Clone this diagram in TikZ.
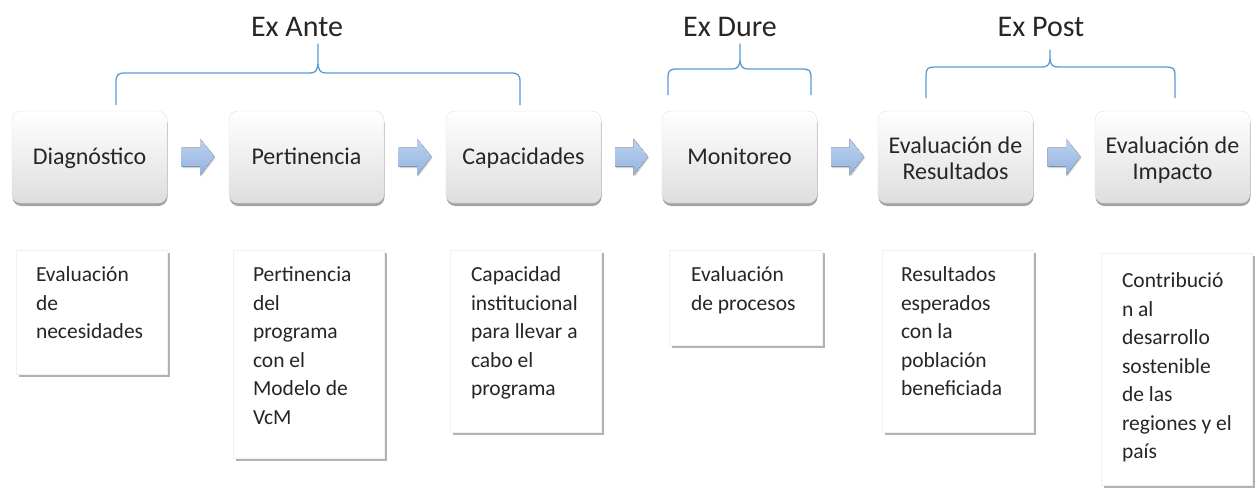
\documentclass[tikz,border=0pt]{standalone}
\usepackage{fontspec}
\setmainfont{Carlito}
\usetikzlibrary{shadows,calc}
\definecolor{bracecol}{HTML}{5B9BD5}
\definecolor{txt}{HTML}{262626}
\definecolor{arrtop}{HTML}{BCD2F0}
\definecolor{arrbot}{HTML}{94B3DE}
\newcommand\mystrutone{\rule[-6pt]{0pt}{26pt}}
\newcommand\mystruttop{\rule{0pt}{24pt}}
\newcommand\mystrutbot{\rule[-6pt]{0pt}{0pt}}
\begin{document}
\begin{tikzpicture}[x=1pt,y=-1pt,
  topbox/.style={rounded corners=9pt, minimum width=155pt, minimum height=92pt,
    top color=white, bottom color=black!13, draw=black!12, line width=0.4pt,
    align=center, font=\fontsize{24}{26}\selectfont, text=txt, inner sep=0pt,
    drop shadow={shadow xshift=0.5pt, shadow yshift=-3pt, opacity=0.55, fill=black!65}},
  botbox/.style={fill=white, draw=black!6, line width=0.4pt, minimum width=151pt, inner sep=0pt,
    drop shadow={shadow xshift=3pt, shadow yshift=-3pt, opacity=0.55, fill=black!55}},
  bottxt/.style={anchor=north west, inner sep=0pt, align=left, text=txt,
    font=\fontsize{21.5}{28.5}\selectfont},
  title/.style={anchor=base, text=txt, font=\fontsize{30}{34}\selectfont},
  arrowfill/.style={top color=arrtop, bottom color=arrbot, draw=none,
    drop shadow={shadow xshift=1pt, shadow yshift=-1.5pt, opacity=0.35, fill=black!50}},
  bracestyle/.style={draw=bracecol, line width=1.3pt, line join=round}
]
\useasboundingbox (0,0) rectangle (1258,491);
\fill[white] (0,0) rectangle (1258,491);

% titles
\node[title] (ta) at (297,36) {Ex Ante};
\node[title] (td) at (730,36) {Ex Dure};
\node[title] (tp) at (1041,36) {Ex Post};

% braces
\draw[bracestyle] (116,105) -- (116,82) .. controls (116,75) and (118,73) .. (125,73)
  -- (310,73) .. controls (316,73) and (318,70) .. (318,61) -- (318,44)
  -- (318,61) .. controls (318,70) and (320,73) .. (326,73)
  -- (511,73) .. controls (518,73) and (520,75) .. (520,82) -- (520,105);
\draw[bracestyle] (668,95) -- (668,77) .. controls (668,71) and (670,69) .. (676,69)
  -- (732,69) .. controls (738,69) and (740,66) .. (740,58) -- (740,44)
  -- (740,58) .. controls (740,66) and (742,69) .. (748,69)
  -- (803,69) .. controls (809,69) and (811,71) .. (811,77) -- (811,95);
\draw[bracestyle] (926,98) -- (926,75) .. controls (926,69) and (928,67) .. (934,67)
  -- (1042,67) .. controls (1048,67) and (1050,64) .. (1050,58) -- (1050,50)
  -- (1050,58) .. controls (1050,64) and (1052,67) .. (1058,67)
  -- (1167,67) .. controls (1173,67) and (1175,69) .. (1175,75) -- (1175,98);

% top boxes
\node[topbox] (t1) at (89.5,157) {\mystrutone Diagnóstico};
\node[topbox] (t2) at (306.5,157) {\mystrutone Pertinencia};
\node[topbox] (t3) at (523.5,157) {\mystrutone Capacidades};
\node[topbox] (t4) at (739.5,157) {\mystrutone Monitoreo};
\node[topbox] (t5) at (955.5,157) {\mystruttop Evaluación de\\Resultados\mystrutbot};
\node[topbox] (t6) at (1172.5,157) {\mystruttop Evaluación de\\Impacto\mystrutbot};

% block arrows
\foreach \a/\b/\m in {t1/t2/m1, t2/t3/m2, t3/t4/m3, t4/t5/m4, t5/t6/m5}{
  \path (\a.east) -- (\b.west) coordinate[pos=0.5] (\m);
  \fill[arrowfill, shift={(\m)}] (-16.5,-9.5) -- (2,-9.5) -- (2,-18.5) -- (16.5,-0.5)
    -- (2,18.5) -- (2,9.5) -- (-16.5,9.5) -- cycle;
}

% bottom boxes
\node[botbox, minimum height=124pt] (b1) at (91.5,312) {};
\node[botbox, minimum height=208pt] (b2) at (308.5,354) {};
\node[botbox, minimum height=182pt] (b3) at (525.5,341) {};
\node[botbox, minimum width=153pt, minimum height=95pt] (b4) at (745.5,297.5) {};
\node[botbox, minimum height=182pt] (b5) at (957.5,341) {};
\node[botbox, minimum height=232pt] (b6) at (1176.5,369) {};

\node[bottxt] (x1) at ([xshift=20pt,yshift=-17pt]b1.north west) {Evaluación\\de\\necesidades};
\node[bottxt] (x2) at ([xshift=20pt,yshift=-17pt]b2.north west) {Pertinencia\\del\\programa\\con el\\Modelo de\\VcM};
\node[bottxt] (x3) at ([xshift=21pt,yshift=-17pt]b3.north west) {Capacidad\\institucional\\para llevar a\\cabo el\\programa};
\node[bottxt] (x4) at ([xshift=22pt,yshift=-17pt]b4.north west) {Evaluación\\de procesos};
\node[bottxt] (x5) at ([xshift=19pt,yshift=-17pt]b5.north west) {Resultados\\esperados\\con la\\población\\beneficiada};
\node[bottxt] (x6) at ([xshift=21pt,yshift=-20pt]b6.north west) {Contribució\\n al\\desarrollo\\sostenible\\de las\\regiones y el\\país};
\end{tikzpicture}
\end{document}
